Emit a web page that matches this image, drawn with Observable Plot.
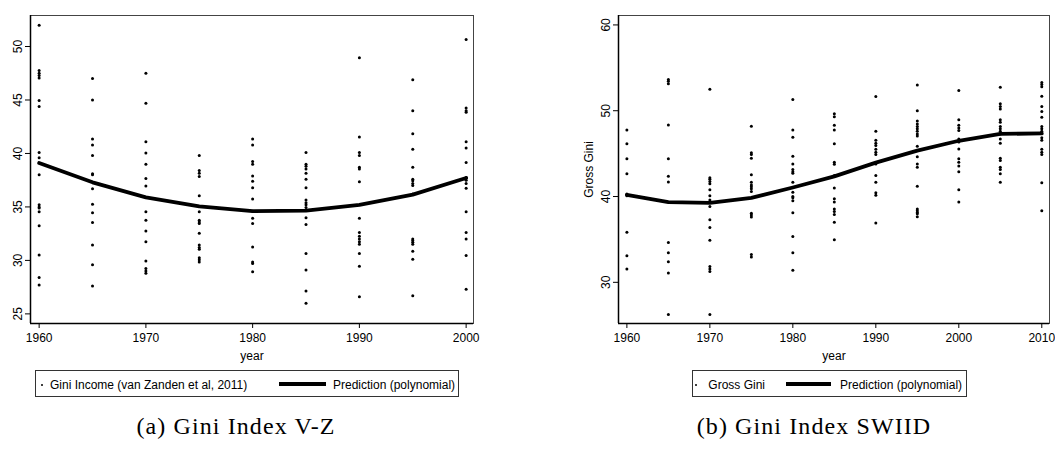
<!DOCTYPE html>
<html><head><meta charset="utf-8">
<script src="https://cdn.jsdelivr.net/npm/d3@7"></script>
<script src="https://cdn.jsdelivr.net/npm/@observablehq/plot@0.6"></script>
<style>
body{margin:0;background:#fff;}
#root{position:relative;width:1055px;height:455px;overflow:hidden;font-family:"Liberation Sans",Arial,sans-serif;background:#fff;}
.panel{position:absolute;top:0;}
.legend{position:absolute;top:370px;height:27px;border:1px solid #333;box-sizing:border-box;background:#fff;}
.legend span{position:absolute;font-size:12px;line-height:12px;top:7.5px;white-space:nowrap;color:#000;}
.legend span.dot{width:2.5px;height:2.5px;border-radius:50%;background:#000;top:12.5px;}
.legend span.ln{height:3.5px;background:#000;top:11px;}
.caption{position:absolute;top:414px;font-family:"Liberation Serif",serif;font-size:24px;line-height:24px;letter-spacing:1.1px;transform:translateX(-50%);white-space:nowrap;color:#000;}
</style>
</head><body>
<div id="root"></div>
<script>
// ---------- Panel (a): Gini Income (van Zanden et al, 2011) ----------
const yearsA = [1960, 1965, 1970, 1975, 1980, 1985, 1990, 1995, 2000];
const vz1960 = [52.0, 47.75, 47.5, 47.3, 47.05, 44.95, 44.4, 40.1, 39.6, 38.0, 35.2, 35.0, 34.9, 34.55, 33.25, 30.5, 28.4, 27.7];
const vz1965 = [47.0, 45.0, 41.35, 40.8, 39.8, 38.1, 38.0, 36.7, 35.25, 34.45, 33.55, 31.45, 29.6, 27.6];
const vz1970 = [47.5, 44.7, 41.1, 40.05, 39.0, 37.65, 36.95, 34.55, 33.75, 32.75, 31.75, 29.95, 29.25, 29.0, 28.8];
const vz1975 = [39.8, 38.4, 38.15, 37.85, 36.05, 34.55, 33.75, 33.6, 33.45, 32.55, 31.45, 31.2, 31.05, 30.25, 30.05, 29.85];
const vz1980 = [41.35, 40.8, 39.25, 39.0, 37.9, 37.4, 36.8, 35.75, 34.6, 33.95, 33.45, 31.25, 29.85, 29.7, 28.95];
const vz1985 = [40.1, 39.0, 38.8, 38.55, 38.15, 37.6, 36.8, 35.65, 35.4, 35.2, 34.95, 34.0, 33.35, 30.65, 29.1, 27.15, 26.0];
const vz1990 = [48.95, 41.55, 40.1, 39.8, 38.7, 38.55, 37.35, 33.95, 32.6, 32.25, 32.0, 31.75, 31.5, 30.65, 29.45, 26.6];
const vz1995 = [46.9, 44.0, 41.85, 40.4, 38.7, 37.6, 37.45, 37.2, 37.0, 36.2, 32.0, 31.85, 31.7, 31.5, 30.85, 30.1, 26.7];
const vz2000 = [50.65, 44.25, 44.0, 43.85, 41.1, 40.5, 39.15, 37.75, 37.5, 37.2, 36.75, 34.55, 32.6, 32.0, 30.45, 27.3];
const predA = [39.1, 37.3, 35.9, 35.05, 34.6, 34.65, 35.2, 36.15, 37.7];
const xTicksA = [1960, 1970, 1980, 1990, 2000];
const yTicksA = [25, 30, 35, 40, 45, 50];
const xDomainA = [1959.19, 2000.69];
const yDomainA = [24.1, 52.9];

// ---------- Panel (b): Gross Gini (SWIID) ----------
const yearsB = [1960, 1965, 1970, 1975, 1980, 1985, 1990, 1995, 2000, 2005, 2010];
const sw1960 = [47.75, 46.15, 44.4, 42.65, 40.3, 40.1, 35.85, 33.1, 31.55];
const sw1965 = [53.65, 53.45, 53.15, 48.35, 44.4, 42.35, 41.7, 34.65, 33.45, 32.4, 31.1, 26.25];
const sw1970 = [52.5, 42.2, 42.0, 41.75, 41.5, 40.8, 40.1, 39.6, 39.4, 38.85, 37.3, 36.4, 34.9, 31.85, 31.55, 31.25, 26.25];
const sw1975 = [48.2, 45.1, 44.9, 44.45, 42.55, 41.65, 41.35, 41.15, 40.9, 40.6, 38.05, 37.85, 37.6, 33.25, 32.95];
const sw1980 = [51.3, 47.75, 46.9, 44.7, 43.8, 43.15, 42.9, 42.7, 41.65, 40.5, 40.0, 39.85, 39.5, 38.1, 35.35, 33.45, 31.4];
const sw1985 = [49.65, 49.3, 48.3, 47.75, 46.15, 44.0, 43.75, 42.45, 41.0, 39.75, 39.35, 38.55, 38.25, 37.9, 37.0, 34.95];
const sw1990 = [51.65, 47.6, 46.55, 46.2, 45.95, 45.5, 45.15, 44.9, 43.8, 42.45, 41.65, 40.45, 40.15, 36.9];
const sw1995 = [53.0, 50.0, 48.8, 48.45, 48.15, 47.9, 47.6, 47.3, 47.05, 45.85, 44.65, 43.8, 43.4, 41.2, 38.55, 38.35, 38.15, 38.0, 37.65];
const sw2000 = [52.35, 48.95, 48.3, 48.0, 47.7, 46.7, 46.35, 45.55, 44.4, 44.0, 43.55, 42.9, 40.8, 39.35];
const sw2005 = [52.75, 50.8, 50.5, 50.2, 48.95, 48.65, 48.15, 47.9, 47.6, 47.3, 46.7, 46.2, 44.45, 44.2, 43.4, 43.15, 42.65, 41.65];
const sw2010 = [53.3, 53.05, 52.8, 51.7, 50.5, 49.9, 49.25, 48.15, 47.9, 47.6, 46.85, 46.55, 45.5, 45.15, 44.9, 41.6, 38.35];
const predB = [40.2, 39.35, 39.25, 39.85, 41.05, 42.35, 43.95, 45.35, 46.5, 47.3, 47.35];
const xTicksB = [1960, 1970, 1980, 1990, 2000, 2010];
const yTicksB = [30, 40, 50, 60];
const xDomainB = [1958.99, 2010.93];
const yDomainB = [25.2, 61.1];

// ---------- Text ----------
const legendA = ["Gini Income (van Zanden et al, 2011)", "Prediction (polynomial)"];
const legendB = ["Gross Gini", "Prediction (polynomial)"];
const captionA = "(a) Gini Index V-Z";
const captionB = "(b) Gini Index SWIID";

// ---------- Build tables ----------
const colsA = [vz1960, vz1965, vz1970, vz1975, vz1980, vz1985, vz1990, vz1995, vz2000];
const colsB = [sw1960, sw1965, sw1970, sw1975, sw1980, sw1985, sw1990, sw1995, sw2000, sw2005, sw2010];
const ptsA = yearsA.flatMap((yr, i) => colsA[i].map(v => ({year: yr, gini: v})));
const ptsB = yearsB.flatMap((yr, i) => colsB[i].map(v => ({year: yr, gini: v})));
const lineA = yearsA.map((yr, i) => ({year: yr, gini: predA[i]}));
const lineB = yearsB.map((yr, i) => ({year: yr, gini: predB[i]}));

const font = '"Liberation Sans", Arial, sans-serif';
function panel({pts, line, xDomain, yDomain, xTicks, yTicks, width, marginLeft, marginRight, yLabel}) {
  return Plot.plot({
    width, height: 365, marginLeft, marginRight, marginTop: 15, marginBottom: 42,
    style: {fontFamily: font, fontSize: "12px", color: "black", background: "transparent", overflow: "visible"},
    x: {domain: xDomain},
    y: {domain: yDomain},
    marks: [
      Plot.frame({stroke: "#444", strokeWidth: 1}),
      Plot.axisX({ticks: xTicks, tickFormat: d => String(d), tickSize: 5, tickPadding: 5, fontSize: 12,
        label: "year", labelAnchor: "center", labelArrow: "none", labelOffset: 36}),
      Plot.axisY({ticks: yTicks, tickSize: 5, tickRotate: -90, tickPadding: 4, fontSize: 12,
        label: yLabel, labelAnchor: "center", labelArrow: "none", labelOffset: 34}),
      Plot.ruleX([xDomain[0]], {stroke: "black", strokeWidth: 1.5}),
      Plot.ruleY([yDomain[0]], {stroke: "black", strokeWidth: 1.5}),
      Plot.dot(pts, {x: "year", y: "gini", r: 1.5, fill: "black", stroke: "none"}),
      Plot.line(line, {x: "year", y: "gini", stroke: "black", strokeWidth: 3.8})
    ]
  });
}

const root = document.getElementById("root");
function place(el, left) {
  const d = document.createElement("div");
  d.className = "panel";
  d.style.left = left + "px";
  d.appendChild(el);
  root.appendChild(d);
}
place(panel({pts: ptsA, line: lineA, xDomain: xDomainA, yDomain: yDomainA, xTicks: xTicksA, yTicks: yTicksA,
  width: 500, marginLeft: 30, marginRight: 27, yLabel: null}), 0);
place(panel({pts: ptsB, line: lineB, xDomain: xDomainB, yDomain: yDomainB, xTicks: xTicksB, yTicks: yTicksB,
  width: 515, marginLeft: 78, marginRight: 6, yLabel: "Gross Gini"}), 540);

function legend(left, width, labels, pos) {
  const box = document.createElement("div");
  box.className = "legend";
  box.style.left = left + "px";
  box.style.width = width + "px";
  const dot = document.createElement("span"); dot.className = "dot"; dot.style.left = pos.dot + "px";
  const t1 = document.createElement("span"); t1.textContent = labels[0]; t1.style.left = pos.t1 + "px";
  const ln = document.createElement("span"); ln.className = "ln"; ln.style.left = pos.ln + "px"; ln.style.width = pos.lw + "px";
  const t2 = document.createElement("span"); t2.textContent = labels[1]; t2.style.left = pos.t2 + "px";
  box.append(dot, t1, ln, t2);
  root.appendChild(box);
}
legend(35, 424, legendA, {dot: 4.5, t1: 14, ln: 243, lw: 47, t2: 297});
legend(692, 275, legendB, {dot: 1.8, t1: 15.3, ln: 93, lw: 45, t2: 147});

function caption(cx, text) {
  const c = document.createElement("div");
  c.className = "caption";
  c.style.left = cx + "px";
  c.textContent = text;
  root.appendChild(c);
}
caption(236, captionA);
caption(814, captionB);
</script>
</body></html>
